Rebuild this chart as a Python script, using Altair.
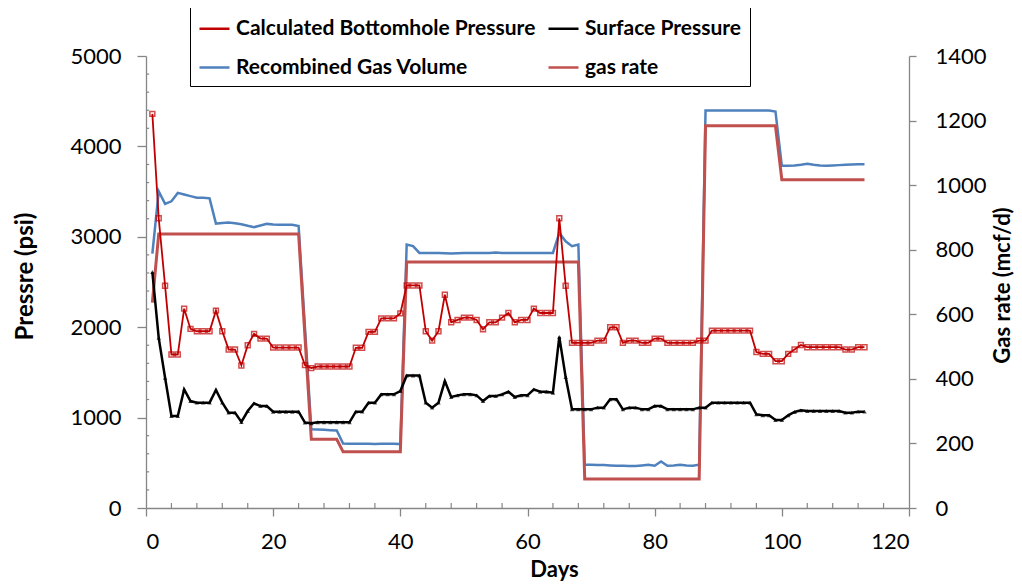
import altair as alt
import pandas as pd

# ---------------- data ----------------
days = list(range(1, 114))

bhp = [
    4360, 3205, 2459, 1698, 1698, 2205, 1981, 1955, 1955, 1955,
    2183, 1955, 1753, 1753, 1577, 1801, 1926, 1874, 1874, 1775,
    1775, 1775, 1775, 1775, 1580, 1547, 1565, 1565, 1565, 1565,
    1565, 1565, 1772, 1772, 1948, 1948, 2098, 2098, 2098, 2153,
    2462, 2462, 2462, 1955, 1852, 1955, 2359, 2054, 2080, 2106,
    2106, 2080, 1977, 2054, 2054, 2106, 2157, 2054, 2080, 2080,
    2205, 2157, 2157, 2157, 3205, 2459, 1827, 1827, 1827, 1827,
    1852, 1852, 1999, 1999, 1827, 1852, 1852, 1827, 1827, 1874,
    1874, 1827, 1827, 1827, 1827, 1827, 1852, 1852, 1962, 1962,
    1962, 1962, 1962, 1962, 1962, 1725, 1705, 1705, 1624, 1624,
    1705, 1753, 1803, 1779, 1779, 1779, 1779, 1779, 1779, 1753,
    1753, 1779, 1779,
]

surface = [
    2610, 1882, 1441, 1018, 1018, 1312, 1183, 1165, 1165, 1165,
    1305, 1165, 1055, 1055, 952, 1073, 1158, 1128, 1128, 1065,
    1065, 1065, 1065, 1065, 945, 937, 948, 948, 948, 948,
    948, 948, 1066, 1066, 1165, 1165, 1257, 1257, 1257, 1294,
    1466, 1466, 1466, 1165, 1110, 1165, 1404, 1227, 1246, 1257,
    1257, 1246, 1183, 1238, 1238, 1257, 1286, 1227, 1246, 1246,
    1312, 1286, 1286, 1275, 1893, 1448, 1091, 1091, 1091, 1091,
    1110, 1110, 1202, 1202, 1091, 1110, 1110, 1091, 1091, 1128,
    1128, 1091, 1091, 1091, 1091, 1091, 1110, 1110, 1165, 1165,
    1165, 1165, 1165, 1165, 1165, 1036, 1025, 1025, 974, 974,
    1025, 1062, 1080, 1073, 1073, 1073, 1073, 1073, 1073, 1055,
    1055, 1066, 1066,
]

recomb_days = [
    1, 2, 3, 4, 5, 6, 7, 8, 9, 10, 11, 12, 13, 14, 15, 16, 17, 18, 19, 20,
    21, 22, 23, 24, 26, 27, 28, 29, 30, 31, 32, 33, 34, 35, 36, 37, 38, 39,
    40, 41, 42, 43, 44, 45, 46, 47, 48, 49, 50, 51, 52, 53, 54, 55, 56, 57,
    58, 59, 60, 61, 62, 63, 64, 65, 66, 67, 68, 69, 70, 71, 72, 73, 74, 75,
    76, 77, 78, 79, 80, 81, 82, 83, 84, 85, 86, 87, 88, 89, 90, 91, 92, 93,
    94, 95, 96, 97, 98, 99, 100, 101, 102, 103, 104, 105, 106, 107, 108,
    109, 110, 111, 112, 113,
]
recomb = [
    788, 981, 942, 950, 976, 971, 966, 961, 961, 959,
    881, 883, 884, 882, 879, 874, 870, 875, 880, 878,
    877, 877, 877, 873,
    244, 243, 242, 241, 240,
    200, 199, 199, 199, 199, 198, 199, 199, 199, 198,
    816, 811, 790, 790, 790, 790, 789, 788, 789, 790,
    790, 790, 790, 790, 791, 790, 790, 790, 790, 790,
    790, 790, 790, 790,
    852, 826, 811, 816,
    134, 134, 133, 133, 132, 131, 131, 130, 130, 132, 134, 131,
    144, 131, 132, 134, 132, 131, 134,
    1231, 1231, 1231, 1231, 1231, 1231, 1231, 1231, 1231, 1231, 1231, 1228,
    1060, 1060, 1061, 1063, 1066, 1063, 1061, 1060, 1061, 1062, 1063, 1064,
    1065, 1065,
]

rate_days = [1, 2, 24, 26, 30, 31, 40, 41, 68, 69, 87, 88, 99, 100, 113]
rate = [636, 849, 849, 213, 213, 174, 174, 762, 762, 90, 90, 1184, 1184, 1017, 1017]

series_names = ["Calculated Bottomhole Pressure", "Surface Pressure",
                "Recombined Gas Volume", "gas rate"]
series_colors = ["#C00000", "#000000", "#4F81BD", "#C0504D"]

x_ticks = [0, 20, 40, 60, 80, 100, 120]
x_minor = [4, 8, 12, 16, 24, 28, 32, 36, 44, 48, 52, 56, 64, 68, 72, 76,
           84, 88, 92, 96, 104, 108, 112, 116]
p_ticks = [0, 1000, 2000, 3000, 4000, 5000]
p_minor = [200, 400, 600, 800, 1200, 1400, 1600, 1800, 2200, 2400, 2600, 2800,
           3200, 3400, 3600, 3800, 4200, 4400, 4600, 4800]
r_ticks = [0, 200, 400, 600, 800, 1000, 1200, 1400]

# ---------------- tables ----------------
bhp_df = pd.DataFrame({"day": days, "value": bhp, "series": series_names[0]})
surf_df = pd.DataFrame({"day": days, "value": surface, "series": series_names[1]})
recomb_df = pd.DataFrame({"day": recomb_days, "value": recomb, "series": series_names[2]})
rate_df = pd.DataFrame({"day": rate_days, "value": rate, "series": series_names[3]})
xminor_df = pd.DataFrame({"day": x_minor, "lo": 0, "hi": 55})
pminor_df = pd.DataFrame({"p": p_minor, "lo": 0.0, "hi": 0.5})

FONT = "Lato"
AXIS_GRAY = "#868686"

# colour scale + legend live on one layer only, so the domain order is kept
color = alt.Color(
    "series:N",
    scale=alt.Scale(domain=series_names, range=series_colors),
    legend=alt.Legend(
        orient="none", legendX=44, legendY=-52, columns=2, direction="horizontal",
        title=None,
        symbolType="stroke", symbolSize=900, symbolStrokeWidth=2.5,
        labelFont=FONT, labelFontWeight="bold", labelFontSize=21,
        labelColor="black", labelLimit=0, labelOffset=5,
        fillColor="white", strokeColor="#000000", padding=8,
        rowPadding=12, columnPadding=7,
    ),
)

x_enc = alt.X(
    "day:Q",
    scale=alt.Scale(domain=[0, 120], nice=False, zero=False),
    axis=alt.Axis(values=x_ticks, format="d", title="Days", tickSize=8, labelPadding=15,
                  titleX=408, titleY=61, titleBaseline="middle"),
)

p_scale = alt.Scale(domain=[0, 5000], nice=False)
r_scale = alt.Scale(domain=[0, 1400], nice=False)

p_axis = alt.Axis(values=p_ticks, format="d", orient="left", title="Pressre (psi)",
                  tickSize=9, labelPadding=16, titleX=-121, titleY=220, titleAngle=270,
                  titleBaseline="middle", titleFontSize=24)
r_axis = alt.Axis(values=r_ticks, format="d", orient="right", title="Gas rate (mcf/d)",
                  tickSize=7, labelPadding=19, titleX=93, titleY=229, titleAngle=270,
                  titleBaseline="middle")

recomb_line = alt.Chart(recomb_df).mark_line(strokeWidth=2.5, color=series_colors[2]).encode(
    x=x_enc, y=alt.Y("value:Q", scale=r_scale, axis=r_axis))
rate_line = alt.Chart(rate_df).mark_line(strokeWidth=3, color=series_colors[3]).encode(
    x=x_enc, y=alt.Y("value:Q", scale=r_scale, axis=r_axis))
rate_layer = alt.layer(recomb_line, rate_line)

surf_line = alt.Chart(surf_df).mark_line(strokeWidth=2.5, color=series_colors[1]).encode(
    x=x_enc, y=alt.Y("value:Q", scale=p_scale, axis=p_axis))
surf_pts = alt.Chart(surf_df).mark_point(shape="triangle-up", filled=True, size=20,
                                         color=series_colors[1]).encode(
    x=x_enc, y=alt.Y("value:Q", scale=p_scale, axis=p_axis))
bhp_line = alt.Chart(bhp_df).mark_line(strokeWidth=1.8).encode(
    x=x_enc, y=alt.Y("value:Q", scale=p_scale, axis=p_axis), color=color)
bhp_pts = alt.Chart(bhp_df).mark_point(shape="square", filled=False, size=24,
                                       strokeWidth=1.5, color=series_colors[0]).encode(
    x=x_enc, y=alt.Y("value:Q", scale=p_scale, axis=p_axis))
xminor_rules = alt.Chart(xminor_df).mark_rule(color=AXIS_GRAY, strokeWidth=1.2).encode(
    x=x_enc, y=alt.Y("lo:Q", scale=p_scale, axis=p_axis), y2="hi:Q")
pminor_rules = alt.Chart(pminor_df).mark_rule(color=AXIS_GRAY, strokeWidth=1.2).encode(
    y=alt.Y("p:Q", scale=p_scale, axis=p_axis),
    x=alt.X("lo:Q", scale=alt.Scale(domain=[0, 120], nice=False, zero=False)), x2="hi:Q")
press_layer = alt.layer(xminor_rules, pminor_rules, surf_line, surf_pts, bhp_line, bhp_pts)

chart = (
    alt.layer(rate_layer, press_layer)
    .resolve_scale(y="independent")
    .properties(
        width=763, height=452,
        autosize=alt.AutoSizeParams(type="none"),
        padding={"left": 138, "top": 48, "right": 105, "bottom": 76},
        background="white",
    )
    .configure_view(strokeWidth=0)
    .configure_axis(
        grid=False, domainColor=AXIS_GRAY, tickColor=AXIS_GRAY, domainWidth=1.3,
        tickWidth=1.3, labelFont=FONT, labelFontSize=22, labelColor="black",
        titleFont=FONT, titleFontWeight="bold", titleFontSize=22, titleColor="black",
    )
)

chart.save("out.html", embed_options={"renderer": "svg", "actions": False})
